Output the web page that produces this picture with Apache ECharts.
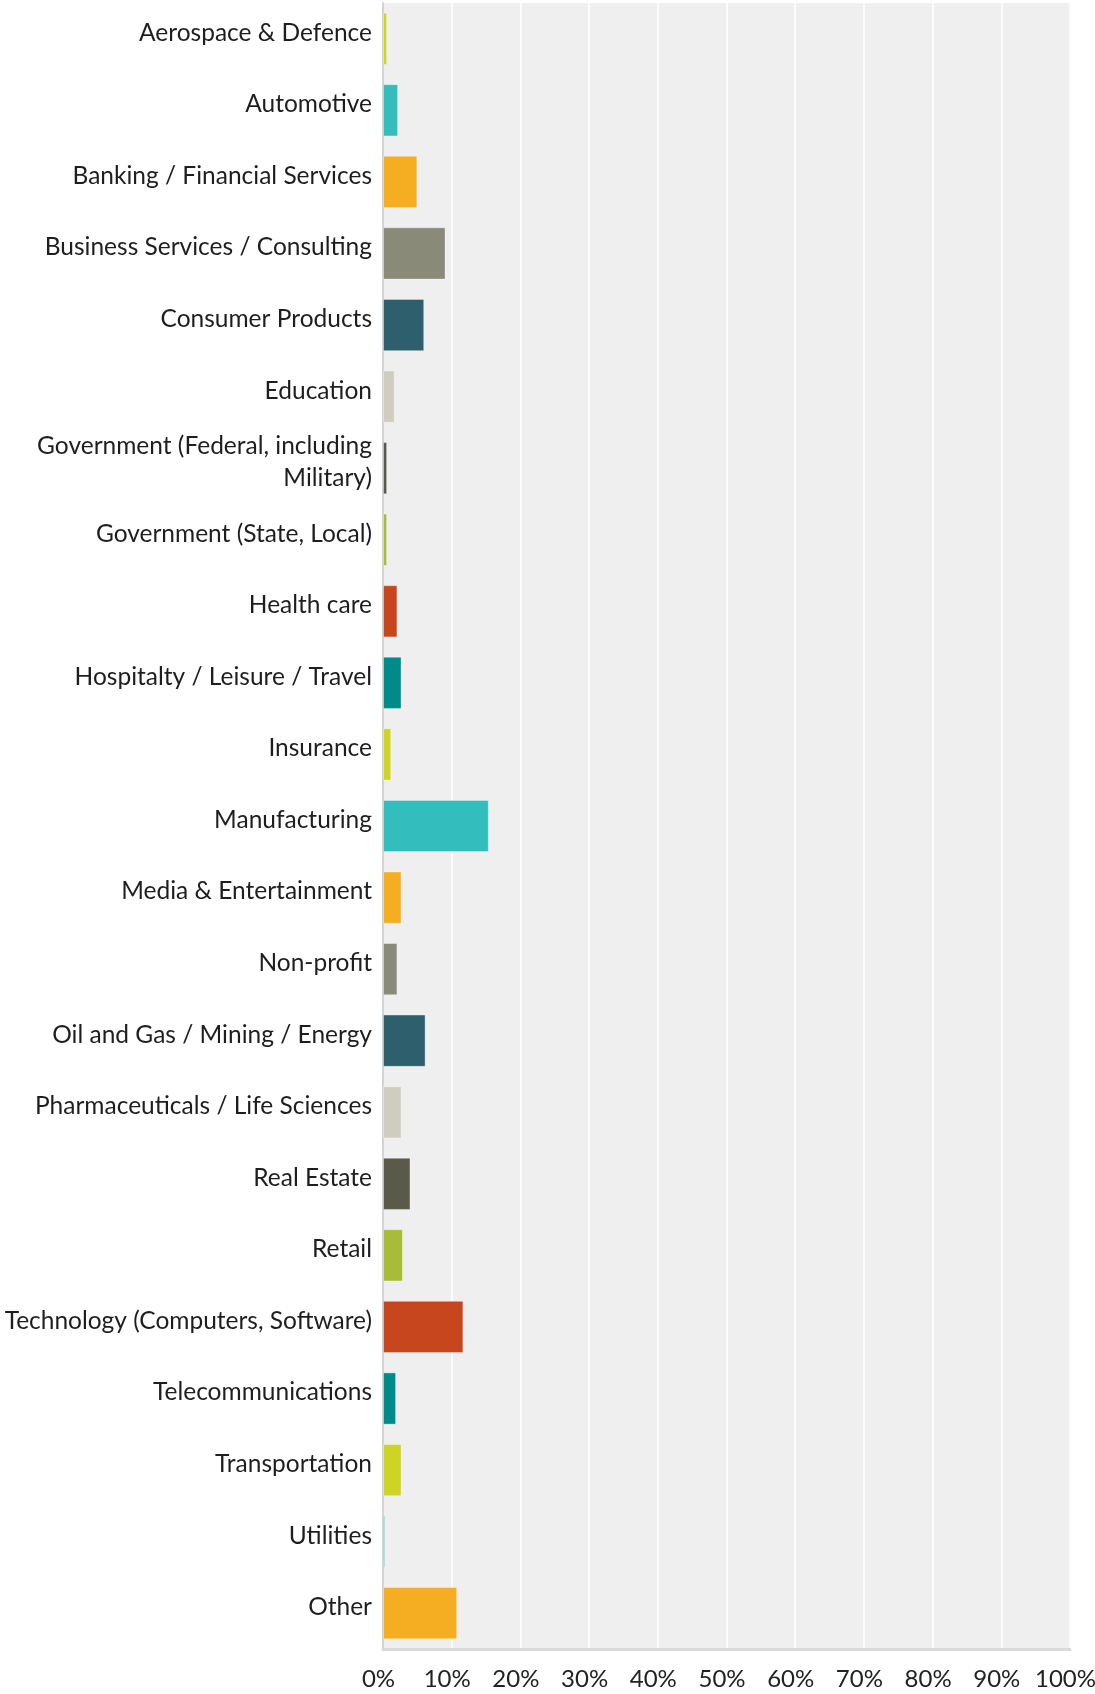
<!DOCTYPE html>
<html>
<head>
<meta charset="utf-8">
<script src="https://cdn.jsdelivr.net/npm/echarts@6/dist/echarts.min.js"></script>
<style>
  html, body { margin: 0; padding: 0; background: #fff; }
  #chart { width: 1095px; height: 1694px; }
</style>
</head>
<body>
<div id="chart"></div>
<script>
  var industries = [
    "Aerospace & Defence", "Automotive", "Banking / Financial Services",
    "Business Services / Consulting", "Consumer Products", "Education",
    "Government (Federal, including\nMilitary)", "Government (State, Local)",
    "Health care", "Hospitalty / Leisure / Travel", "Insurance", "Manufacturing",
    "Media & Entertainment", "Non-profit", "Oil and Gas / Mining / Energy",
    "Pharmaceuticals / Life Sciences", "Real Estate", "Retail",
    "Technology (Computers, Software)", "Telecommunications", "Transportation",
    "Utilities", "Other"
  ];
  var shares = [0.6, 2.2, 5.0, 9.1, 6.0, 1.7, 0.6, 0.6, 2.1, 2.7, 1.2, 15.4,
                2.7, 2.1, 6.2, 2.7, 4.0, 2.9, 11.7, 1.9, 2.7, 0.3, 10.8];
  var palette = ["#cdd425", "#33bdbd", "#f5ae22", "#8a8a79", "#2e5f6c",
                 "#cfcdbf", "#5a5a4b", "#a8bc39", "#c8461e", "#008b8b"];
  var ticks = [0, 10, 20, 30, 40, 50, 60, 70, 80, 90, 100];

  var chart = echarts.init(document.getElementById("chart"));
  chart.setOption({
    animation: false,
    textStyle: { fontFamily: "Lato" },
    grid: { left: 383, right: 25, top: 3, bottom: 45, show: true,
            backgroundColor: "#efefef", borderWidth: 0,
            outerBoundsMode: "none", containLabel: false },
    xAxis: {
      type: "value", min: ticks[0], max: ticks[ticks.length - 1], interval: 10,
      axisLine: { show: true, lineStyle: { color: "#dadada", width: 3 } },
      axisTick: { show: false },
      splitLine: { show: true, lineStyle: { color: "#fbfbfb", width: 2 } },
      axisLabel: { fontSize: 24, color: "#222", margin: 18, formatter: "{value}%",
                   padding: [0, 9, 0, 0] }
    },
    yAxis: {
      type: "category", inverse: true, data: industries,
      axisLine: { show: true, lineStyle: { color: "#d4d4d4", width: 2 } },
      axisTick: { show: false },
      axisLabel: {
        margin: 11,
        formatter: function (v) { return "{t|" + v + "}"; },
        rich: { t: { fontSize: 24.5, color: "#1e1e1e", lineHeight: 32, padding: [0, 0, 12, 0] } }
      }
    },
    series: [{
      type: "bar", barCategoryGap: "27%",
      data: shares.map(function (v, i) {
        return { value: v, itemStyle: { color: palette[i % palette.length],
                 borderColor: "rgba(255,255,255,0.35)", borderWidth: 1 } };
      })
    }]
  });
</script>
</body>
</html>
